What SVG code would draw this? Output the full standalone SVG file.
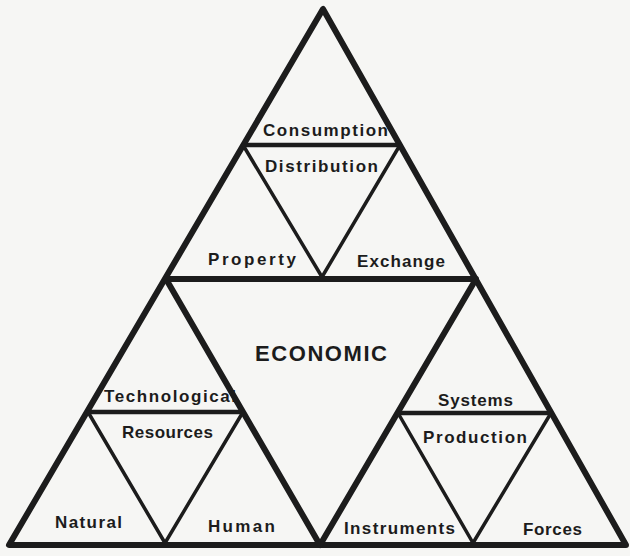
<svg xmlns="http://www.w3.org/2000/svg" width="630" height="556" viewBox="0 0 630 556">
  <style>
    .bg { fill: #f6f6f4; }
    .thick { fill: none; stroke: #1c1c1c; stroke-width: 6; stroke-linejoin: round; stroke-linecap: round; }
    .mid { fill: none; stroke: #1c1c1c; stroke-width: 4.5; stroke-linejoin: round; stroke-linecap: round; }
    .thin { fill: none; stroke: #1c1c1c; stroke-width: 3.5; stroke-linejoin: round; stroke-linecap: round; }
    .lbl { font-family: "Liberation Sans", Arial, sans-serif; font-size: 17px; font-weight: bold; fill: #1c1c1c; text-anchor: start; }
    .big { font-family: "Liberation Sans", Arial, sans-serif; font-size: 22px; font-weight: bold; fill: #1c1c1c; }
  </style>
  <rect class="bg" x="0" y="0" width="630" height="556"/>

  <g id="connectors">
    <!-- outer triangle -->
    <polygon class="thick" points="323,9 9,545 626,545"/>
    <!-- central ECONOMIC triangle -->
    <polygon class="thick" points="166,279 476,279 320,545"/>
    <!-- top inner inverted triangle -->
    <line class="mid" x1="243" y1="145" x2="400" y2="145"/>
    <polyline class="thin" points="243,145 322,277 400,145"/>
    <!-- left bottom inner inverted triangle -->
    <line class="mid" x1="88" y1="412" x2="243" y2="412"/>
    <polyline class="thin" points="88,412 165,543 243,412"/>
    <!-- right bottom inner inverted triangle -->
    <line class="mid" x1="398" y1="413" x2="551" y2="413"/>
    <polyline class="thin" points="398,413 473,543 551,413"/>
  </g>

  <g id="consumption"><text class="lbl" x="263" y="136" textLength="125" lengthAdjust="spacing">Consumption</text></g>
  <g id="distribution"><text class="lbl" x="265" y="172" textLength="113" lengthAdjust="spacing">Distribution</text></g>
  <g id="property"><text class="lbl" x="208" y="265" textLength="88" lengthAdjust="spacing">Property</text></g>
  <g id="exchange"><text class="lbl" x="357" y="267" textLength="88" lengthAdjust="spacing">Exchange</text></g>
  <g id="economic"><text class="big" x="255" y="361" textLength="132" lengthAdjust="spacing">ECONOMIC</text></g>
  <g id="technological"><text class="lbl" x="104" y="402" textLength="132" lengthAdjust="spacing">Technological</text></g>
  <g id="resources"><text class="lbl" x="122" y="438" textLength="91" lengthAdjust="spacing">Resources</text></g>
  <g id="systems"><text class="lbl" x="438" y="406" textLength="75" lengthAdjust="spacing">Systems</text></g>
  <g id="production"><text class="lbl" x="423" y="443" textLength="104" lengthAdjust="spacing">Production</text></g>
  <g id="natural"><text class="lbl" x="55" y="528" textLength="67" lengthAdjust="spacing">Natural</text></g>
  <g id="human"><text class="lbl" x="208" y="532" textLength="67" lengthAdjust="spacing">Human</text></g>
  <g id="instruments"><text class="lbl" x="344" y="534" textLength="111" lengthAdjust="spacing">Instruments</text></g>
  <g id="forces"><text class="lbl" x="523" y="535" textLength="59" lengthAdjust="spacing">Forces</text></g>
</svg>
